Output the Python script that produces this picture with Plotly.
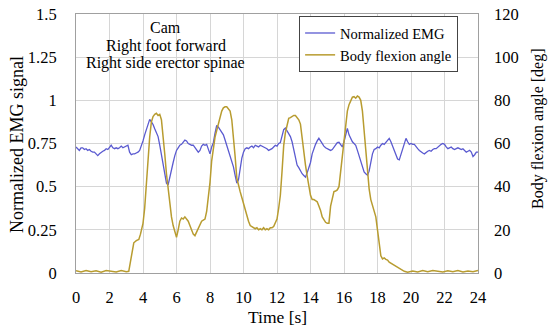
import plotly.graph_objects as go

# ---------------- data ----------------
emg_time = [
    0.0, 0.1, 0.2, 0.3, 0.4, 0.5, 0.6, 0.7, 0.8, 0.9,
    1.0, 1.1, 1.2, 1.3, 1.4, 1.5, 1.6, 1.7, 1.8, 1.9,
    2.0, 2.1, 2.2, 2.3, 2.4, 2.5, 2.6, 2.7, 2.8, 2.9,
    3.0, 3.1, 3.2, 3.3, 3.4, 3.5, 3.6, 3.7, 3.8, 3.9,
    4.0, 4.1, 4.2, 4.3, 4.4, 4.5, 4.6, 4.7, 4.8, 4.9,
    5.0, 5.1, 5.2, 5.3, 5.4, 5.5, 5.6, 5.7, 5.8, 5.9,
    6.0, 6.1, 6.2, 6.3, 6.4, 6.5, 6.6, 6.7, 6.8, 6.9,
    7.0, 7.1, 7.2, 7.3, 7.4, 7.5, 7.6, 7.7, 7.8, 7.9,
    8.0, 8.1, 8.2, 8.3, 8.4, 8.5, 8.6, 8.7, 8.8, 8.9,
    9.0, 9.1, 9.2, 9.3, 9.4, 9.5, 9.6, 9.7, 9.8, 9.9,
    10.0, 10.1, 10.2, 10.3, 10.4, 10.5, 10.6, 10.7, 10.8, 10.9,
    11.0, 11.1, 11.2, 11.3, 11.4, 11.5, 11.6, 11.7, 11.8, 11.9,
    12.0, 12.1, 12.2, 12.3, 12.4, 12.5, 12.6, 12.7, 12.8, 12.9,
    13.0, 13.1, 13.2, 13.3, 13.4, 13.5, 13.6, 13.7, 13.8, 13.9,
    14.0, 14.1, 14.2, 14.3, 14.4, 14.5, 14.6, 14.7, 14.8, 14.9,
    15.0, 15.1, 15.2, 15.3, 15.4, 15.5, 15.6, 15.7, 15.8, 15.9,
    16.0, 16.1, 16.2, 16.3, 16.4, 16.5, 16.6, 16.7, 16.8, 16.9,
    17.0, 17.1, 17.2, 17.3, 17.4, 17.5, 17.6, 17.7, 17.8, 17.9,
    18.0, 18.1, 18.2, 18.3, 18.4, 18.5, 18.6, 18.7, 18.8, 18.9,
    19.0, 19.1, 19.2, 19.3, 19.4, 19.5, 19.6, 19.7, 19.8, 19.9,
    20.0, 20.1, 20.2, 20.3, 20.4, 20.5, 20.6, 20.7, 20.8, 20.9,
    21.0, 21.1, 21.2, 21.3, 21.4, 21.5, 21.6, 21.7, 21.8, 21.9,
    22.0, 22.1, 22.2, 22.3, 22.4, 22.5, 22.6, 22.7, 22.8, 22.9,
    23.0, 23.1, 23.2, 23.3, 23.4, 23.5, 23.6, 23.7, 23.8, 23.9,
    24.0,
]
emg_signal = [
    0.73, 0.72, 0.71, 0.725, 0.725, 0.715, 0.72, 0.71, 0.715, 0.705,
    0.70, 0.70, 0.69, 0.68, 0.69, 0.70, 0.705, 0.71, 0.72, 0.715,
    0.73, 0.74, 0.725, 0.72, 0.725, 0.72, 0.725, 0.735, 0.725, 0.73,
    0.735, 0.74, 0.70, 0.685, 0.69, 0.69, 0.695, 0.70, 0.71, 0.735,
    0.765, 0.80, 0.835, 0.865, 0.89, 0.875, 0.86, 0.835, 0.81, 0.79,
    0.74, 0.68, 0.62, 0.57, 0.52, 0.51, 0.56, 0.60, 0.64, 0.68,
    0.71, 0.725, 0.74, 0.745, 0.76, 0.77, 0.765, 0.75, 0.745, 0.74,
    0.74, 0.725, 0.71, 0.70, 0.71, 0.735, 0.745, 0.74, 0.745, 0.715,
    0.69, 0.73, 0.755, 0.81, 0.855, 0.845, 0.83, 0.815, 0.80, 0.77,
    0.74, 0.71, 0.68, 0.645, 0.615, 0.565, 0.52, 0.54, 0.61, 0.665,
    0.70, 0.72, 0.725, 0.72, 0.73, 0.735, 0.725, 0.74, 0.735, 0.73,
    0.74, 0.735, 0.73, 0.725, 0.72, 0.71, 0.715, 0.72, 0.73, 0.74,
    0.735, 0.75, 0.755, 0.79, 0.83, 0.84, 0.825, 0.81, 0.79, 0.76,
    0.72, 0.67, 0.625, 0.61, 0.59, 0.575, 0.565, 0.555, 0.58, 0.61,
    0.64, 0.69, 0.72, 0.745, 0.765, 0.78, 0.765, 0.745, 0.735, 0.725,
    0.72, 0.715, 0.71, 0.715, 0.73, 0.745, 0.755, 0.757, 0.74, 0.73,
    0.76, 0.80, 0.838, 0.80, 0.775, 0.76, 0.75, 0.74, 0.71, 0.68,
    0.65, 0.61, 0.585, 0.575, 0.567, 0.59, 0.64, 0.69, 0.715, 0.72,
    0.73, 0.725, 0.74, 0.75, 0.745, 0.755, 0.77, 0.78, 0.76, 0.735,
    0.72, 0.69, 0.66, 0.655, 0.69, 0.72, 0.755, 0.78, 0.76, 0.745,
    0.75, 0.745, 0.745, 0.73, 0.72, 0.71, 0.70, 0.695, 0.69, 0.70,
    0.705, 0.71, 0.705, 0.715, 0.72, 0.72, 0.73, 0.735, 0.745, 0.75,
    0.745, 0.73, 0.72, 0.725, 0.73, 0.72, 0.715, 0.72, 0.725, 0.72,
    0.715, 0.72, 0.71, 0.70, 0.705, 0.71, 0.70, 0.675, 0.685, 0.70,
    0.70,
]

angle_time = [
    0.0, 0.3, 0.6, 0.9, 1.2, 1.5, 1.8, 2.1, 2.4, 2.7, 3.0, 3.15,
    3.25, 3.35, 3.45, 3.6, 3.75, 3.85, 4.0, 4.1, 4.2, 4.3, 4.4, 4.5,
    4.6, 4.7, 4.8, 4.9, 5.0, 5.1, 5.2, 5.3, 5.4, 5.5, 5.6, 5.7,
    5.8, 5.9, 6.0, 6.1, 6.2, 6.3, 6.4, 6.5, 6.6, 6.7, 6.8, 6.9,
    7.0, 7.1, 7.2, 7.3, 7.4, 7.5, 7.6, 7.7, 7.8, 7.9, 8.0, 8.1,
    8.2, 8.3, 8.4, 8.5, 8.6, 8.7, 8.8, 8.9, 9.0, 9.1, 9.2, 9.3,
    9.4, 9.5, 9.6, 9.7, 9.8, 9.9, 10.0, 10.1, 10.2, 10.3, 10.4, 10.5,
    10.6, 10.7, 10.8, 10.9, 11.0, 11.1, 11.2, 11.3, 11.4, 11.5, 11.6, 11.7,
    11.8, 11.9, 12.0, 12.1, 12.2, 12.3, 12.4, 12.5, 12.6, 12.7, 12.8, 12.9,
    13.0, 13.1, 13.2, 13.3, 13.4, 13.5, 13.6, 13.7, 13.8, 13.9, 14.0, 14.1,
    14.2, 14.3, 14.4, 14.5, 14.6, 14.7, 14.8, 14.9, 15.0, 15.1, 15.2, 15.3,
    15.4, 15.5, 15.6, 15.7, 15.8, 15.9, 16.0, 16.1, 16.2, 16.3, 16.4, 16.5,
    16.6, 16.7, 16.8, 16.9, 17.0, 17.1, 17.2, 17.3, 17.4, 17.5, 17.6, 17.7,
    17.8, 17.9, 18.0, 18.1, 18.2, 18.3, 18.4, 18.5, 18.6, 18.7, 18.8, 18.9,
    19.0, 19.1, 19.2, 19.3, 19.4, 19.5, 19.6, 19.7, 19.8, 20.1, 20.4, 20.7,
    21.0, 21.3, 21.6, 21.9, 22.2, 22.5, 22.8, 23.1, 23.4, 23.7, 24.0,
]
body_flexion_angle = [
    1.0, 0.5, 1.2, 0.6, 1.0, 0.4, 1.1, 0.7, 0.5, 1.2, 0.6, 0.8,
    5.0, 11.0, 14.0, 15.0, 15.5, 18.0, 23.0, 30.0, 42.0, 54.0, 63.0, 70.0,
    72.5, 73.5, 74.0, 73.0, 73.5, 71.0, 64.0, 55.0, 46.0, 39.0, 32.0, 26.0,
    22.0, 19.0, 16.5, 20.0, 24.0, 25.5, 25.0, 26.0, 25.0, 24.0, 22.0, 20.0,
    18.0, 17.3, 19.0, 20.0, 22.0, 24.0, 24.5, 25.0, 28.5, 35.0, 42.0, 52.0,
    59.0, 63.0, 66.0, 69.0, 72.0, 75.0, 76.5, 77.0, 77.0, 76.0, 75.0, 71.0,
    64.0, 54.0, 44.0, 40.0, 37.7, 35.0, 32.0, 30.0, 27.0, 24.0, 22.0, 21.5,
    21.0, 20.5, 21.0, 20.0, 20.5, 20.0, 21.0, 20.0, 20.5, 20.0, 21.0, 21.0,
    21.5, 23.0, 25.0, 30.0, 36.0, 47.0, 59.0, 65.0, 69.0, 71.7, 72.0, 72.5,
    73.0, 73.0, 72.0, 71.0, 69.0, 62.0, 55.0, 50.0, 45.0, 40.0, 36.0, 34.0,
    34.0, 33.5, 33.0, 31.0, 29.0, 26.0, 24.5, 23.5, 23.0, 23.0, 31.0, 35.0,
    37.7, 38.0, 38.5, 40.0, 47.0, 56.0, 64.0, 70.0, 75.0, 78.0, 80.0, 81.5,
    81.7, 81.0, 82.0, 81.5, 80.0, 75.0, 66.0, 56.0, 46.0, 39.0, 34.0, 31.0,
    29.0, 26.0, 20.0, 14.0, 8.0, 6.5, 7.0, 6.3, 6.0, 5.0, 4.5, 4.0,
    3.5, 3.0, 2.8, 2.2, 1.5, 1.2, 0.8, 0.6, 0.4, 0.9, 0.5, 1.1,
    0.6, 1.2, 0.7, 0.5, 1.0, 0.6, 1.1, 0.5, 0.9, 0.6, 1.2,
]

x_ticks = [0, 2, 4, 6, 8, 10, 12, 14, 16, 18, 20, 22, 24]
left_ticks = [0, 0.25, 0.5, 0.75, 1, 1.25, 1.5]
left_tick_text = ["0", "0.25", "0.5", "0.75", "1", "1.25", "1.5"]
right_ticks = [0, 20, 40, 60, 80, 100, 120]
info_lines = ["Cam", "Right foot forward", "Right side erector spinae"]

# ---------------- figure ----------------
FONT = "Liberation Serif, Times New Roman, serif"
EMG_COLOR = "#5a5ad0"
ANGLE_COLOR = "#b89c30"
GRID = "#d6d6d6"
FRAME = "#a0a0a0"

fig = go.Figure()
fig.add_trace(go.Scatter(
    x=emg_time, y=emg_signal, mode="lines", name="Normalized EMG",
    line=dict(color=EMG_COLOR, width=1.3), yaxis="y",
))
fig.add_trace(go.Scatter(
    x=angle_time, y=body_flexion_angle, mode="lines", name="Body flexion angle",
    line=dict(color=ANGLE_COLOR, width=1.5), yaxis="y2",
))

annotations = [
    dict(text="Normalized EMG signal", xref="paper", yref="paper",
         x=-0.147, y=0.498, xanchor="center", yanchor="middle", textangle=-90,
         showarrow=False, font=dict(family=FONT, size=18)),
    dict(text="Body flexion angle [deg]", xref="paper", yref="paper",
         x=1.149, y=0.556, xanchor="center", yanchor="middle", textangle=-90,
         showarrow=False, font=dict(family=FONT, size=16)),
    dict(text="Time [s]", xref="paper", yref="paper",
         x=0.5, y=-0.170, xanchor="center", yanchor="middle",
         showarrow=False, font=dict(family=FONT, size=17.5)),
]
for line_text, ypos in zip(info_lines, [0.946, 0.876, 0.811]):
    annotations.append(dict(
        text=line_text, xref="x", yref="paper", x=5.37, y=ypos,
        xanchor="center", yanchor="middle", showarrow=False,
        font=dict(family=FONT, size=16),
    ))

fig.update_layout(
    width=550, height=333,
    margin=dict(l=76, r=72, t=14, b=60),
    paper_bgcolor="white", plot_bgcolor="white",
    font=dict(family=FONT, size=16.5, color="black"),
    showlegend=True,
    legend=dict(
        x=0.555, y=0.992, xanchor="left", yanchor="top",
        bgcolor="white", bordercolor="#444444", borderwidth=1,
        font=dict(family=FONT, size=14.5),
        tracegroupgap=0, itemwidth=30,
        entrywidth=140, entrywidthmode="pixels",
    ),
    xaxis=dict(
        range=[0, 24], tickvals=x_ticks, showgrid=True, gridcolor=GRID, gridwidth=1,
        zeroline=False, showline=True, linecolor=FRAME, mirror=True,
        ticks="", ticklabelstandoff=9, automargin=False,
    ),
    yaxis=dict(
        range=[0, 1.5], tickvals=left_ticks, ticktext=left_tick_text,
        showgrid=True, gridcolor=GRID, gridwidth=1,
        zeroline=False, showline=True, linecolor=FRAME, mirror=True,
        ticks="", ticklabelstandoff=15, automargin=False,
    ),
    yaxis2=dict(
        range=[0, 120], tickvals=right_ticks, overlaying="y", side="right",
        showgrid=False, zeroline=False, showline=False,
        ticks="", ticklabelstandoff=15, automargin=False,
    ),
    annotations=annotations,
)

# remove the default 8px page margin so the figure fills the window exactly
fig.write_html(
    "out.html",
    config={"displayModeBar": False},
    post_script="document.body.style.margin='0px';",
)
